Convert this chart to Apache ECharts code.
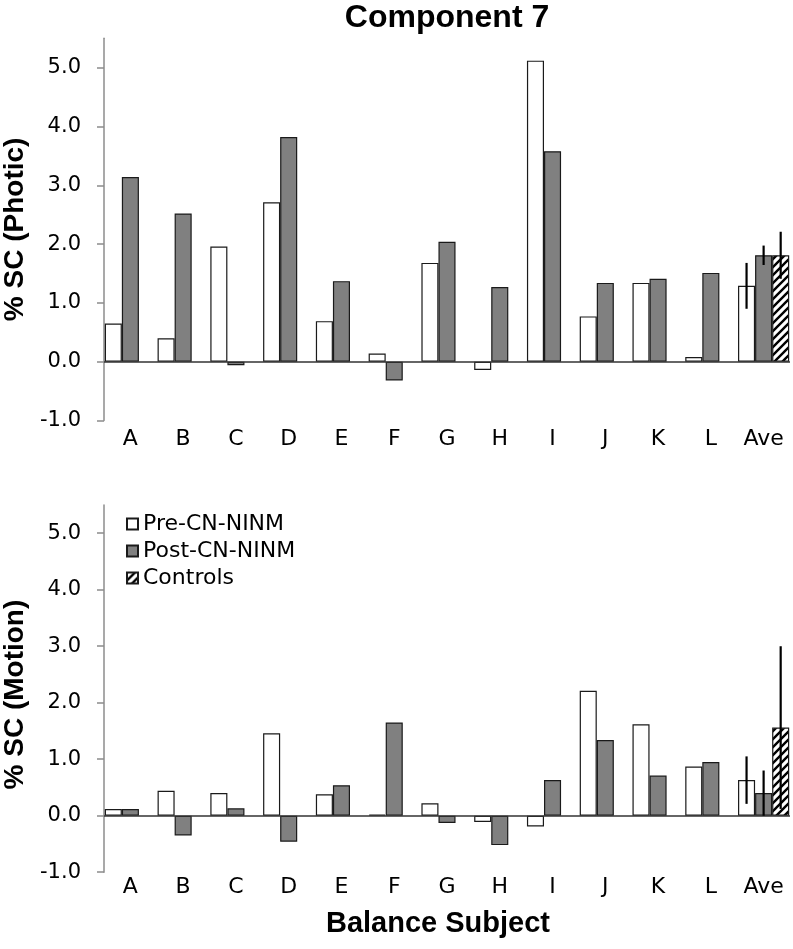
<!DOCTYPE html>
<html>
<head>
<meta charset="utf-8">
<script src="https://cdn.jsdelivr.net/npm/echarts@6/dist/echarts.min.js"></script>
<style>
html,body{margin:0;padding:0;background:#fff;}
#chart{width:793px;height:949px;}
</style>
</head>
<body>
<div id="chart"></div>
<script>
const categories = ['A','B','C','D','E','F','G','H','I','J','K','L','Ave'];
const yTicks = [-1, 0, 1, 2, 3, 4, 5];

const photicPre      = [0.65, 0.40, 1.96, 2.71, 0.69, 0.14, 1.68, -0.14, 5.12, 0.77, 1.34, 0.08, 1.29];
const photicPost     = [3.14, 2.52, -0.06, 3.82, 1.37, -0.32, 2.04, 1.27, 3.58, 1.34, 1.41, 1.51, 1.81];
const photicControls = [null, null, null, null, null, null, null, null, null, null, null, null, 1.81];
const photicErr      = [0.39, 0.165, 0.40];   // Ave: pre, post, controls

const motionPre      = [0.12, 0.44, 0.40, 1.46, 0.38, 0.02, 0.22, -0.11, -0.19, 2.21, 1.62, 0.87, 0.63];
const motionPost     = [0.12, -0.35, 0.13, -0.46, 0.54, 1.65, -0.13, -0.52, 0.63, 1.34, 0.71, 0.95, 0.40];
const motionControls = [null, null, null, null, null, null, null, null, null, null, null, null, 1.56];
const motionErr      = [0.42, 0.40, 1.44];

const seriesNames = ['Pre-CN-NINM', 'Post-CN-NINM', 'Controls'];

// hatch pattern
const pc = document.createElement('canvas');
pc.width = 8; pc.height = 8;
const g = pc.getContext('2d');
g.fillStyle = '#fff'; g.fillRect(0,0,8,8);
g.strokeStyle = '#000'; g.lineWidth = 2.4;
g.beginPath();
g.moveTo(-2,10); g.lineTo(10,-2);
g.moveTo(-6,6); g.lineTo(6,-6);
g.moveTo(2,14); g.lineTo(14,2);
g.stroke();

const CAT_GAP = 0.03;
const styles = [
  {color:'#ffffff', borderColor:'#1a1a1a', borderWidth:1.2},
  {color:'#808080', borderColor:'#1a1a1a', borderWidth:1.2},
  {color:{image:pc, repeat:'repeat'}, borderColor:'#1a1a1a', borderWidth:1.2}
];

function errRender(params, api){
  const cat = api.value(0), v = api.value(1), e = api.value(2), s = api.value(3);
  const band = api.size([1,0])[0];
  const bw = band*(1-CAT_GAP)/3;
  const x = api.coord([cat, v])[0] + (s-1)*bw;
  const y1 = api.coord([cat, v+e])[1];
  const y2 = api.coord([cat, v-e])[1];
  return {type:'line', shape:{x1:x,y1:y1,x2:x,y2:y2}, style:{stroke:'#000', lineWidth:2.2}};
}

function errData(vals, errs){
  const i = categories.length - 1;
  return vals.map((arr, s) => [i, arr[i], errs[s], s]);
}

function barSeries(idx, dataArrs){
  return dataArrs.map((d, s) => {
    const o = {
      name: seriesNames[s], type:'bar', xAxisIndex:idx, yAxisIndex:idx,
      data:d, barGap:'0%', barCategoryGap:(CAT_GAP*100)+'%',
      itemStyle: styles[s], emphasis:{disabled:true}
    };
    if (s === 0) {
      o.markLine = {silent:true, symbol:['none','none'], label:{show:false},
        lineStyle:{color:'#333', width:1.5, type:'solid'}, data:[{yAxis:0}], animation:false};
    }
    return o;
  });
}

const labelFont = 'DejaVu Sans';
const boldFont = 'Liberation Sans';

function yAxis(idx, name, pad){
  return {
    type:'value', gridIndex:idx, min:-1, max:5.5, interval:1,
    splitLine:{show:false},
    axisLine:{show:true, lineStyle:{color:'#8c8c8c', width:1.5}},
    axisTick:{show:true, inside:false, length:7, lineStyle:{color:'#8c8c8c', width:1.5}, customValues:yTicks},
    axisLabel:{color:'#000', fontFamily:labelFont, fontSize:21, margin:23,
      customValues:yTicks, formatter:v => v.toFixed(1)},
    name:name, nameLocation:'middle', nameGap:72,
    nameTextStyle:{fontFamily:boldFont, fontWeight:'bold', fontSize:28, color:'#000', padding:pad}
  };
}

function xAxis(idx, margin, name){
  const o = {
    type:'category', gridIndex:idx, data:categories,
    axisLine:{show:false, onZero:false}, axisTick:{show:false},
    axisLabel:{color:'#000', fontFamily:labelFont, fontSize:22, margin:margin, interval:0}
  };
  if (name) {
    o.name = name; o.nameLocation = 'middle'; o.nameGap = 37;
    o.nameTextStyle = {fontFamily:boldFont, fontWeight:'bold', fontSize:29, color:'#000', padding:[0,18,0,0]};
  }
  return o;
}

const chart = echarts.init(document.getElementById('chart'), null, {renderer:'canvas'});
chart.setOption({
  animation:false,
  backgroundColor:'#fff',
  title:{text:'Component 7', left:447, textAlign:'center', top:2, padding:0,
    textStyle:{fontFamily:boldFont, fontWeight:'bold', fontSize:32, color:'#000'}},
  legend:{
    data:seriesNames, orient:'vertical', left:121, top:508,
    itemWidth:11, itemHeight:11, itemGap:5, icon:'rect',
    textStyle:{fontFamily:labelFont, fontSize:22, lineHeight:21, color:'#000'},
    selectedMode:false
  },
  grid:[
    {left:104, right:3, top:38.3, height:382.2, outerBoundsMode:'none', containLabel:false},
    {left:104, right:3, top:505, height:367.2, outerBoundsMode:'none', containLabel:false}
  ],
  xAxis:[xAxis(0, 8), xAxis(1, 4, 'Balance Subject')],
  yAxis:[yAxis(0, '% SC (Photic)', [0,0,0,0]), yAxis(1, '% SC (Motion)', [0,12,0,0])],
  series:[
    ...barSeries(0, [photicPre, photicPost, photicControls]),
    ...barSeries(1, [motionPre, motionPost, motionControls]),
    {type:'custom', name:'errPhotic', xAxisIndex:0, yAxisIndex:0, renderItem:errRender,
      data:errData([photicPre, photicPost, photicControls], photicErr), z:10, silent:true},
    {type:'custom', name:'errMotion', xAxisIndex:1, yAxisIndex:1, renderItem:errRender,
      data:errData([motionPre, motionPost, motionControls], motionErr), z:10, silent:true}
  ]
});
</script>
</body>
</html>
